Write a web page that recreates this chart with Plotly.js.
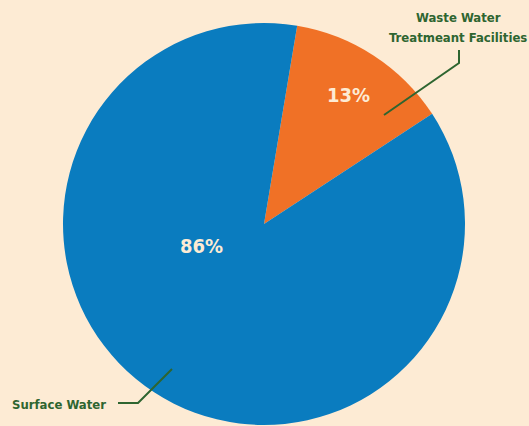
<!DOCTYPE html>
<html>
<head>
<meta charset="utf-8">
<script src="https://cdn.plot.ly/plotly-3.0.1.min.js"></script>
<style>html,body{margin:0;padding:0;background:#FDEBD4;}#chart{width:529px;height:426px;}</style>
</head>
<body>
<div id="chart"></div>
<script>
const categories = ["Waste Water\nTreatmeant Facilities", "Surface Water"];
const shareValues = [13, 86];
const sliceColors = ["#F07126", "#0A7CBF"];

const W = 529, H = 426;
const px = x => x / W;
const py = y => 1 - y / H;
const fontFam = "'DejaVu Sans Condensed', 'Liberation Sans Narrow', Arial, sans-serif";
const green = "#2E6530";

const trace = {
  type: "pie",
  values: shareValues,
  labels: categories.map(c => c.replace("\n", " ")),
  marker: {colors: sliceColors, line: {width: 0}},
  sort: false,
  direction: "clockwise",
  rotation: 9.5,
  textinfo: "none",
  hoverinfo: "label+value",
  showlegend: false,
  domain: {x: [px(63), px(465)], y: [py(425), py(23)]}
};

const pctText = shareValues.map(v => v + "%");
const wwLines = categories[0].split("\n");
const annotations = [
  {x: px(348), y: py(95), text: pctText[0], font: {size: 20, color: "#FDEBD4", family: fontFam, weight: 700}},
  {x: px(201), y: py(246), text: pctText[1], font: {size: 20, color: "#FDEBD4", family: fontFam, weight: 700}},
  {x: px(458), y: py(17), text: wwLines[0], font: {size: 13, color: green, family: fontFam, weight: 700}},
  {x: px(458), y: py(37), text: wwLines[1], font: {size: 13, color: green, family: fontFam, weight: 700}},
  {x: px(108), y: py(404), xanchor: "right", text: categories[1],
   font: {size: 13, color: green, family: fontFam, weight: 700}}
].map(a => Object.assign({xref: "paper", yref: "paper", showarrow: false, xanchor: "center", yanchor: "middle"}, a));

function pathPx(pts) {
  return pts.map((p, i) => (i ? "L" : "M") + px(p[0]) + "," + py(p[1])).join(" ");
}
const shapes = [
  {type: "path", xref: "paper", yref: "paper", path: pathPx([[459, 50], [459, 63], [384, 115]]),
   line: {color: green, width: 2}},
  {type: "path", xref: "paper", yref: "paper", path: pathPx([[172, 369], [138, 403], [118, 403]]),
   line: {color: green, width: 2}}
];

Plotly.newPlot("chart", [trace], {
  width: W, height: H,
  margin: {l: 0, r: 0, t: 0, b: 0},
  paper_bgcolor: "#FDEBD4",
  plot_bgcolor: "#FDEBD4",
  annotations: annotations,
  shapes: shapes
}, {displayModeBar: false, staticPlot: true});
</script>
</body>
</html>
